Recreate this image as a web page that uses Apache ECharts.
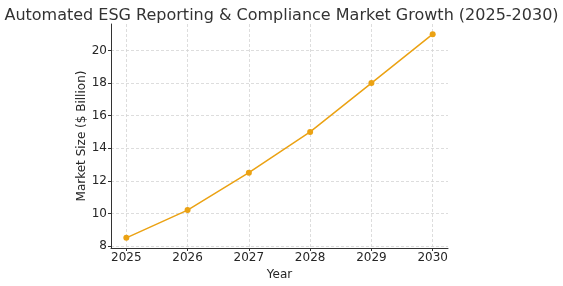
<!DOCTYPE html>
<html>
<head>
<meta charset="utf-8">
<script src="https://cdn.jsdelivr.net/npm/echarts@6/dist/echarts.min.js"></script>
<style>
  html, body { margin: 0; padding: 0; background: #fff; }
  #chart { width: 563px; height: 286px; }
</style>
</head>
<body>
<div id="chart"></div>
<script>
// market size by year ($ billion)
var years = [2025, 2026, 2027, 2028, 2029, 2030];
var marketSize = [8.5, 10.2, 12.5, 15, 18, 21];
var yTicks = [8, 10, 12, 14, 16, 18, 20];

var points = [];
for (var i = 0; i < years.length; i++) {
  points.push([years[i], marketSize[i]]);
}

var font = 'DejaVu Sans';
var gridLine = { show: true, lineStyle: { color: '#d4d4d4', type: [3, 2], width: 0.8 } };

var chart = echarts.init(document.getElementById('chart'));
chart.setOption({
  animation: false,
  backgroundColor: '#fff',
  title: {
    text: 'Automated ESG Reporting & Compliance Market Growth (2025-2030)',
    left: 'center',
    top: 3,
    textStyle: { fontFamily: font, fontSize: 16, fontWeight: 'normal', color: '#333' }
  },
  grid: { left: 111, right: 115, top: 24, bottom: 38 },
  xAxis: {
    type: 'value',
    min: 2024.75,
    max: 2030.25,
    name: 'Year',
    nameLocation: 'middle',
    nameGap: 20,
    nameTextStyle: { fontFamily: font, fontSize: 12, color: '#262626' },
    axisLine: { show: true, lineStyle: { color: '#333', width: 1 } },
    axisTick: { show: true, length: 3, customValues: years, lineStyle: { color: '#333' } },
    axisLabel: {
      customValues: years, fontFamily: font, fontSize: 12, color: '#262626', margin: 4,
      formatter: function (v) { return String(v); }
    },
    splitLine: Object.assign({ customValues: years }, gridLine)
  },
  yAxis: {
    type: 'value',
    min: 7.875,
    max: 21.625,
    name: 'Market Size ($ Billion)',
    nameLocation: 'middle',
    nameGap: 23,
    nameMoveOverlap: false,
    nameTextStyle: { fontFamily: font, fontSize: 12, color: '#262626' },
    axisLine: { show: true, lineStyle: { color: '#333', width: 1 } },
    axisTick: { show: true, length: 3, customValues: yTicks, lineStyle: { color: '#333' } },
    axisLabel: { customValues: yTicks, fontFamily: font, fontSize: 12, color: '#262626', margin: 4 },
    splitLine: Object.assign({ customValues: yTicks }, gridLine)
  },
  series: [{
    type: 'line',
    data: points,
    symbol: 'circle',
    symbolSize: 6,
    itemStyle: { color: '#eba213' },
    lineStyle: { color: '#eba213', width: 1.5 }
  }]
});
</script>
</body>
</html>
